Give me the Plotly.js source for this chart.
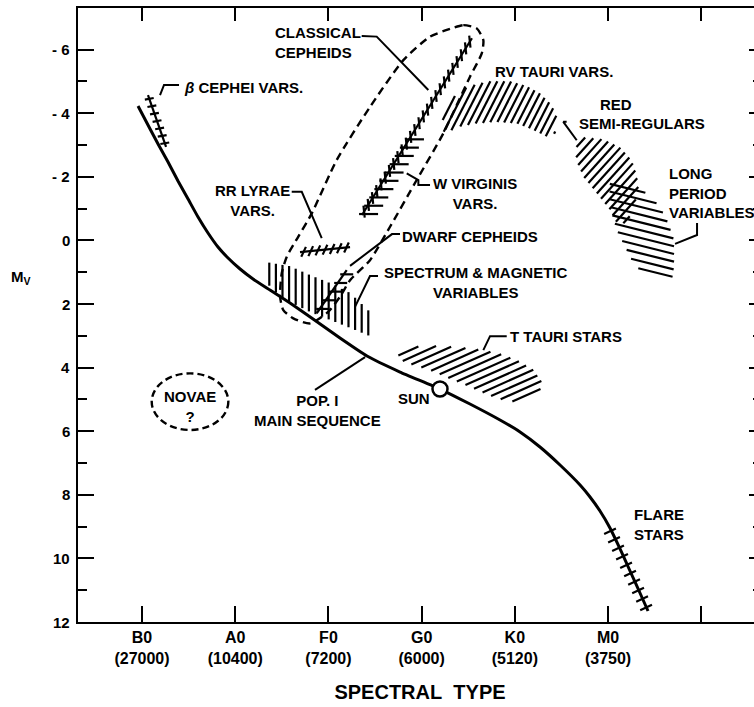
<!DOCTYPE html>
<html><head><meta charset="utf-8">
<script src="https://cdn.plot.ly/plotly-3.0.1.min.js"></script>
<style>html,body{margin:0;padding:0;overflow:hidden;background:#fff}</style>
</head><body><div id="chart"></div>
<script>
// ================= DATA =================
const spectralTicks = [0, 1, 2, 3, 4, 5];
const spectralLabels = ['B0<br>(27000)', 'A0<br>(10400)', 'F0<br>(7200)', 'G0<br>(6000)', 'K0<br>(5120)', 'M0<br>(3750)'];
const spectralExtraTicks = [6];
const magTicks = [-6, -4, -2, 0, 2, 4, 6, 8, 10, 12];
const magLabels = ['- 6', '- 4', '- 2', '0', '2', '4', '6', '8', '10', '12'];
const magMinor = [-5, -3, -1, 1, 3, 5, 7, 9, 11];

// Population I main sequence
const mainSeqX  = [-0.043, 0.064, 0.172, 0.279, 0.386, 0.494, 0.601, 0.708, 0.815, 0.923, 1.052, 1.191, 1.373, 1.588, 1.835, 2.124, 2.414, 2.768, 3.197, 3.519, 3.841, 4.056, 4.270, 4.485, 4.700, 4.807, 4.914, 5.021, 5.129, 5.236, 5.343, 5.429];
const mainSeqMv = [-4.226, -3.629, -3.031, -2.465, -1.868, -1.302, -0.736, -0.233, 0.208, 0.553, 0.899, 1.214, 1.560, 1.969, 2.472, 3.069, 3.635, 4.138, 4.673, 5.145, 5.648, 6.025, 6.497, 7.063, 7.692, 8.069, 8.509, 9.044, 9.704, 10.396, 11.088, 11.654];
const sunX = [3.197], sunMv = [4.673];

// dashed instability-strip envelope
const stripX  = [3.323, 3.447, 3.591, 3.662, 3.645, 3.519, 3.233, 2.947, 2.661, 2.446, 2.232, 2.124, 1.996, 1.803, 1.623, 1.516, 1.481, 1.499, 1.553, 1.677, 1.821, 2.089, 2.446, 2.804, 3.090, 3.323];
const stripMv = [-6.67, -6.77, -6.67, -6.30, -5.88, -5.15, -3.37, -1.90, -0.43, 0.62, 1.25, 1.77, 2.25, 2.61, 2.45, 2.19, 1.77, 1.03, 0.51, -0.12, -0.85, -2.53, -4.20, -5.67, -6.41, -6.67];

// novae (dashed oval) extent
const novaeXRange = [0.104, 0.926];
const novaeMvRange = [4.18, 5.96];

// hatched regions (outlines)
const rvTauriX  = [3.226, 3.305, 3.412, 3.555, 3.734, 3.948, 4.128, 4.270, 4.396, 4.450, 4.431, 4.342, 4.199, 4.020, 3.806, 3.591, 3.412, 3.286, 3.226];
const rvTauriMv = [-4.00, -4.36, -4.73, -4.89, -5.01, -5.01, -4.86, -4.63, -4.26, -3.89, -3.37, -3.26, -3.47, -3.68, -3.73, -3.68, -3.58, -3.42, -3.42];
const redSRX  = [4.664, 4.753, 4.950, 5.129, 5.254, 5.308, 5.325, 5.290, 5.201, 5.093, 5.021, 4.879, 4.735, 4.657];
const redSRMv = [-3.10, -3.24, -3.18, -2.93, -2.53, -2.06, -1.69, -1.17, -0.54, -0.54, -0.96, -1.48, -2.00, -2.53];
const lpvX  = [5.021, 5.236, 5.415, 5.558, 5.647, 5.708, 5.708, 5.683, 5.415, 5.272, 5.164, 5.093, 5.040, 5.014];
const lpvMv = [-1.90, -1.74, -1.48, -1.06, -0.54, -0.01, 0.83, 1.33, 1.14, 0.72, 0.09, -0.33, -0.85, -1.37];
const tTauriX  = [2.750, 2.911, 3.197, 3.519, 3.806, 4.020, 4.199, 4.289, 4.270, 4.128, 3.984, 3.806, 3.591, 3.340, 3.090, 2.840, 2.750];
const tTauriMv = [3.50, 3.34, 3.32, 3.39, 3.53, 3.76, 4.07, 4.44, 4.76, 5.02, 5.07, 4.97, 4.70, 4.39, 4.08, 3.86, 3.71];
const specMagX  = [1.330, 1.588, 1.803, 2.017, 2.232, 2.446, 2.446, 2.232, 2.017, 1.803, 1.588, 1.427, 1.330];
const specMagMv = [0.68, 0.81, 1.09, 1.34, 1.65, 2.25, 3.01, 2.75, 2.50, 2.25, 1.94, 1.62, 1.31];

// ladder-type bands (start / end of each band)
const betaCepX = [0.064, 0.258], betaCepMv = [-4.57, -2.94];
const cepheidX = [2.36, 3.54],   cepheidMv = [-0.80, -6.36];
const wVirX    = [2.339, 2.886], wVirMv    = [-0.70, -3.31];
const rrLyrX   = [1.695, 2.232], rrLyrMv   = [0.37, 0.21];
const dwarfX   = [1.874, 2.196], dwarfMv   = [2.29, 0.93];
const flareX   = [5.00, 5.43],   flareMv   = [9.01, 11.68];

// leader lines
const pointers = [
  {x: [2.357, 2.518, 3.072], y: [-6.43, -6.41, -4.73]},   // classical cepheids
  {x: [4.556, 4.520, 4.664], y: [-3.73, -3.73, -3.15]},   // red semi-regulars
  {x: [5.955, 5.955, 5.719], y: [-0.55, -0.17, 0.11]},    // long period variables
  {x: [2.840, 2.965, 2.965, 3.090], y: [-2.11, -1.90, -1.74, -1.74]}, // W Virginis
  {x: [2.768, 2.682, 2.232], y: [-0.20, -0.20, 0.80]},    // dwarf cepheids
  {x: [2.532, 2.446, 2.285], y: [1.12, 1.12, 2.09]},      // spectrum & magnetic
  {x: [1.606, 1.714, 1.928], y: [-1.53, -1.53, -0.07]},   // RR Lyrae
  {x: [0.397, 0.236, 0.193], y: [-4.89, -4.89, -4.57]},   // beta Cephei
  {x: [3.913, 3.734, 3.662], y: [3.01, 3.01, 3.45]},      // T Tauri
  {x: [1.856, 2.393], y: [4.70, 3.67]}                    // main sequence
];

// labels
const labelTexts = ['CLASSICAL<br>CEPHEIDS', 'RV TAURI VARS.', 'RED', 'SEMI-REGULARS', 'LONG<br>PERIOD<br>VARIABLES',
  'W VIRGINIS<br>VARS.', 'DWARF CEPHEIDS', 'SPECTRUM &amp; MAGNETIC<br>VARIABLES', 'RR LYRAE<br>VARS.',
  '<i>β</i> CEPHEI VARS.', 'T TAURI STARS', 'SUN', 'POP. I<br>MAIN SEQUENCE', 'FLARE<br>STARS', 'NOVAE<br>?'];
const labelX  = [1.406, 4.421, 5.086, 5.365, 5.633, 3.573, 2.768, 3.584, 1.180, 0.426, 3.927, 2.918, 1.888, 5.258, 0.515];
const labelMv = [-6.24, -5.30, -4.29, -3.69, -1.49, -1.47, -0.11, 1.32, -1.27, -4.82, 3.01, 4.98, 5.35, 8.92, 5.21];
const labelAnchor = ['left', 'center', 'center', 'center', 'left', 'center', 'left', 'center', 'center', 'left', 'left', 'center', 'center', 'left', 'center'];

// ================= LAYOUT / STYLE =================
const W = 770, H = 707, ML = 78, MR = 8, MT = 8, MB = 85;
const X_RANGE = [-0.687, 6.652];
const Y_RANGE = [12, -7.31];
const PW = W - ML - MR, PH = H - MT - MB;
const KX = PW / (X_RANGE[1] - X_RANGE[0]);
const KY = PH / (Y_RANGE[0] - Y_RANGE[1]);
const FONT = 'Liberation Sans, Arial, Helvetica, sans-serif';
const INK = '#000';

function hatch(px, py, angleDeg, spacing, phase) {
  const a = angleDeg * Math.PI / 180;
  const d = [Math.cos(a), -Math.sin(a)];
  const n = [Math.sin(a), Math.cos(a)];
  const P = px.map((x, i) => [x * KX, py[i] * KY]);
  const proj = P.map(p => p[0] * n[0] + p[1] * n[1]);
  const lo = Math.min(...proj), hi = Math.max(...proj);
  const xs = [], ys = [];
  for (let c = lo + spacing * (phase == null ? 0.5 : phase); c < hi; c += spacing) {
    const ts = [];
    for (let i = 0; i < P.length; i++) {
      const j = (i + 1) % P.length;
      const s1 = proj[i] - c, s2 = proj[j] - c;
      if ((s1 < 0) !== (s2 < 0)) {
        const t = s1 / (s1 - s2);
        const qx = P[i][0] + t * (P[j][0] - P[i][0]);
        const qy = P[i][1] + t * (P[j][1] - P[i][1]);
        ts.push(qx * d[0] + qy * d[1]);
      }
    }
    ts.sort((u, v) => u - v);
    for (let k = 0; k + 1 < ts.length; k += 2) {
      for (const t of [ts[k], ts[k + 1]]) {
        xs.push((c * n[0] + t * d[0]) / KX);
        ys.push((c * n[1] + t * d[1]) / KY);
      }
      xs.push(null); ys.push(null);
    }
  }
  return {xs, ys};
}

function ladder(x, y, count, angleDeg, len, shift) {
  const a = angleDeg * Math.PI / 180;
  const d = [Math.cos(a), -Math.sin(a)];
  const X0 = x[0] * KX, Y0 = y[0] * KY, X1 = x[1] * KX, Y1 = y[1] * KY;
  const xs = [], ys = [];
  for (let i = 0; i < count; i++) {
    const t = (i + 0.5) / count;
    const cx = X0 + (X1 - X0) * t + (shift || 0) * d[0];
    const cy = Y0 + (Y1 - Y0) * t + (shift || 0) * d[1];
    xs.push((cx - d[0] * len / 2) / KX, (cx + d[0] * len / 2) / KX, null);
    ys.push((cy - d[1] * len / 2) / KY, (cy + d[1] * len / 2) / KY, null);
  }
  return {xs, ys};
}

function merge(parts) {
  const xs = [], ys = [];
  parts.forEach(p => { xs.push(...p.xs); ys.push(...p.ys); });
  return {xs, ys};
}

const hatchSegs = merge([
  hatch(rvTauriX, rvTauriMv, 63, 6.2),
  hatch(redSRX, redSRMv, 48, 6.6),
  hatch(lpvX, lpvMv, -14, 7.5),
  hatch(tTauriX, tTauriMv, 24, 6.8),
  hatch(specMagX, specMagMv, 90, 6.6)
]);

const tickSegs = merge([
  ladder(betaCepX, betaCepMv, 7, 10, 9, 0),
  ladder(cepheidX, cepheidMv, 26, 96, 12, 0),
  ladder(wVirX, wVirMv, 10, 0, 19, 6),
  ladder(rrLyrX, rrLyrMv, 7, 65, 11, 0),
  ladder(dwarfX, dwarfMv, 5, 0, 13, 3),
  ladder(flareX, flareMv, 10, 25, 13, 0)
]);

const spineSegs = merge([
  {xs: [...betaCepX, null], ys: [...betaCepMv, null]},
  {xs: [...cepheidX, null], ys: [...cepheidMv, null]},
  {xs: [...rrLyrX, null], ys: [...rrLyrMv, null]},
  {xs: [...dwarfX, null], ys: [...dwarfMv, null]}
]);

const ptrSegs = merge(pointers.map(p => ({xs: [...p.x, null], ys: [...p.y, null]})));

const base = {mode: 'lines', hoverinfo: 'skip', showlegend: false};
const traces = [
  Object.assign({}, base, {x: hatchSegs.xs, y: hatchSegs.ys, line: {color: INK, width: 2.2}}),
  Object.assign({}, base, {x: tickSegs.xs, y: tickSegs.ys, line: {color: INK, width: 2.2}}),
  Object.assign({}, base, {x: spineSegs.xs, y: spineSegs.ys, line: {color: INK, width: 2.2}}),
  Object.assign({}, base, {x: stripX, y: stripMv, line: {color: INK, width: 2.4, dash: '8px,5px', shape: 'spline', smoothing: 0.6}}),
  Object.assign({}, base, {x: ptrSegs.xs, y: ptrSegs.ys, line: {color: INK, width: 2}}),
  Object.assign({}, base, {x: mainSeqX, y: mainSeqMv, line: {color: INK, width: 3, shape: 'spline', smoothing: 0.4}}),
  {x: sunX, y: sunMv, mode: 'markers', hoverinfo: 'skip', showlegend: false,
   marker: {size: 15, color: '#fff', line: {color: INK, width: 2.5}}},
  {x: [X_RANGE[0]], y: [Y_RANGE[0]], xaxis: 'x2', yaxis: 'y2', mode: 'markers', hoverinfo: 'skip', showlegend: false,
   marker: {size: 1, opacity: 0}}
];

const annFont = {family: FONT, size: 15, color: INK, weight: 'bold'};
const annotations = labelTexts.map((t, i) => ({
  text: t, x: labelX[i], y: labelMv[i], xref: 'x', yref: 'y',
  xanchor: labelAnchor[i], yanchor: 'middle', align: labelAnchor[i],
  showarrow: false, font: annFont
}));
// y-axis tick labels (drawn at the tick values, right-aligned beside the axis)
magTicks.forEach((v, i) => annotations.push({
  text: magLabels[i], xref: 'paper', yref: 'y', x: -6 / PW, y: v,
  xanchor: 'right', yanchor: 'middle', showarrow: false,
  font: {family: FONT, size: 15, color: INK, weight: 'bold'}
}));
annotations.push({
  text: 'M<sub>V</sub>', xref: 'paper', yref: 'paper',
  x: (21 - ML) / PW, y: (H - MB - 277) / PH,
  xanchor: 'center', yanchor: 'middle', showarrow: false,
  font: {family: FONT, size: 15, color: INK, weight: 'bold'}
});

const axisCommon = {showgrid: false, zeroline: false, showline: true, linecolor: INK, linewidth: 2,
  tickcolor: INK, tickwidth: 2, ticks: 'inside'};

const layout = {
  width: W, height: H,
  margin: {l: ML, r: MR, t: MT, b: MB},
  paper_bgcolor: '#fff', plot_bgcolor: '#fff',
  showlegend: false, hovermode: false,
  xaxis: Object.assign({}, axisCommon, {
    range: X_RANGE, tickmode: 'array', tickvals: spectralTicks, ticktext: spectralLabels,
    ticklen: 16, tickfont: {family: FONT, size: 16, color: INK, weight: 'bold'},
    minor: {tickmode: 'array', tickvals: spectralExtraTicks, ticks: 'inside', ticklen: 16, tickwidth: 2, tickcolor: INK, showgrid: false},
    title: {text: 'SPECTRAL\u00A0\u00A0TYPE', standoff: 19, font: {family: FONT, size: 20, color: INK, weight: 'bold'}}
  }),
  yaxis: Object.assign({}, axisCommon, {
    range: Y_RANGE, tickmode: 'array', tickvals: magTicks, showticklabels: false,
    ticklen: 16,
    minor: {tickmode: 'array', tickvals: magMinor, ticks: 'inside', ticklen: 9, tickwidth: 2, tickcolor: INK, showgrid: false}
  }),
  xaxis2: Object.assign({}, axisCommon, {
    range: X_RANGE, overlaying: 'x', side: 'top', anchor: 'y2', tickmode: 'array',
    tickvals: spectralTicks.concat(spectralExtraTicks),
    ticklen: 13, showticklabels: false
  }),
  yaxis2: Object.assign({}, axisCommon, {
    range: Y_RANGE, overlaying: 'y', side: 'right', anchor: 'x2', tickmode: 'array', tickvals: magTicks,
    ticklen: 13, showticklabels: false,
    minor: {tickmode: 'array', tickvals: magMinor, ticks: 'inside', ticklen: 9, tickwidth: 2, tickcolor: INK, showgrid: false}
  }),
  shapes: [{
    type: 'circle', xref: 'x', yref: 'y',
    x0: novaeXRange[0], x1: novaeXRange[1], y0: novaeMvRange[0], y1: novaeMvRange[1],
    line: {color: INK, width: 2.4, dash: '7px,4px'}, fillcolor: 'rgba(0,0,0,0)'
  }],
  annotations: annotations
};

Plotly.newPlot('chart', traces, layout, {staticPlot: true, displayModeBar: false});
</script>
</body></html>
